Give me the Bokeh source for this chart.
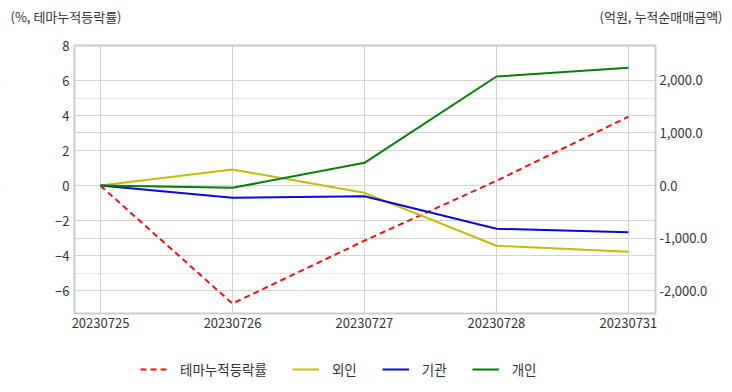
from bokeh.plotting import figure
from bokeh.models import (Range1d, LinearAxis, FixedTicker, NumeralTickFormatter,
                          Legend, LegendItem, ColumnDataSource, Grid, Label,
                          BoxAnnotation)
from bokeh.embed import file_html
from bokeh.resources import INLINE

dates = ["20230725", "20230726", "20230727", "20230728", "20230731"]
theme_pct = [0.0, -6.72, -3.13, 0.28, 3.94]
foreign = [0.0, 304.0, -139.0, -1144.0, -1258.0]
institution = [0.0, -233.0, -203.0, -822.0, -886.0]
individual = [0.0, -44.0, 431.0, 2068.0, 2233.0]
left_ticks = [-6, -4, -2, 0, 2, 4, 6, 8]
right_ticks = [-2000, -1000, 0, 1000, 2000]
left_title = "(%, 테마누적등락률)"
right_title = "(억원, 누적순매매금액)"
series_names = ["테마누적등락률", "외인", "기관", "개인"]

FONT = "Noto Sans CJK KR"
TXT = "#333333"
GRID = "#d3d3d3"
FS = "13px"

# layout: canvas size and the plot box inside it (pixels)
W, H = 724, 384
BL, BR, BT, BB = 74, 655, 45, 313
# visible value spans of the plot box
x0, x1 = -0.197, 4.205
y0, y1 = -7.285, 8.0
a0, a1 = -2429.0, 2657.0

sx = (BR - BL) / (x1 - x0)
sy = (BB - BT) / (y1 - y0)
sa = (BB - BT) / (a1 - a0)
xr = Range1d(x0 - BL / sx, x1 + (W - BR) / sx)
yr = Range1d(y0 - (H - BB) / sy, y1 + BT / sy)
ar = Range1d(a0 - (H - BB) / sa, a1 + BT / sa)

xs = list(range(len(dates)))
src = ColumnDataSource(dict(x=xs, theme=theme_pct, foreign=foreign,
                            inst=institution, indiv=individual))

p = figure(width=W, height=H, output_backend="svg", toolbar_location=None,
           x_range=xr, y_range=yr, min_border=0,
           x_axis_location=None, y_axis_location=None)
p.extra_y_ranges = {"amt": ar}
p.outline_line_color = None

xa = LinearAxis(ticker=FixedTicker(ticks=xs), fixed_location=y0)
xa.major_label_overrides = {i: d for i, d in enumerate(dates)}
la = LinearAxis(ticker=FixedTicker(ticks=left_ticks), fixed_location=x0)
ra = LinearAxis(y_range_name="amt", ticker=FixedTicker(ticks=right_ticks),
                formatter=NumeralTickFormatter(format="0,0.0"), fixed_location=x1)
for ax in [xa, la, ra]:
    ax.axis_line_color = None
    ax.major_tick_line_color = None
    ax.minor_tick_line_color = None
    ax.major_tick_out = 0
    ax.major_tick_in = 0
    ax.major_label_standoff = 4
    ax.major_label_text_font = FONT
    ax.major_label_text_font_size = FS
    ax.major_label_text_color = TXT
xa.major_label_standoff = 4
la.major_label_standoff = 5
p.add_layout(xa, "below")
p.add_layout(la, "left")
p.add_layout(ra, "right")

p.add_layout(Grid(dimension=0, ticker=xa.ticker, grid_line_color=GRID))
p.add_layout(Grid(dimension=1, ticker=la.ticker, grid_line_color=GRID))
p.add_layout(Grid(dimension=1, ticker=ra.ticker, y_range_name="amt",
                  grid_line_color=GRID))

# white masks outside the plot box, then the grey box outline
for kw in [dict(left=xr.start, right=x0, bottom=yr.start, top=yr.end),
           dict(left=x1, right=xr.end, bottom=yr.start, top=yr.end),
           dict(left=xr.start, right=xr.end, bottom=y1, top=yr.end),
           dict(left=xr.start, right=xr.end, bottom=yr.start, top=y0)]:
    p.add_layout(BoxAnnotation(fill_color="white", fill_alpha=1.0,
                               line_alpha=0, level="underlay", **kw))
p.add_layout(BoxAnnotation(left=x0, right=x1, bottom=y0, top=y1,
                           fill_alpha=0, line_color="#cccccc", line_width=2,
                           line_alpha=1.0, level="underlay"))

r_theme = p.line("x", "theme", source=src, line_color="#ee1111", line_width=2,
                 line_dash="6 4")
r_for = p.line("x", "foreign", source=src, y_range_name="amt",
               line_color="#c2bc0a", line_width=2)
r_inst = p.line("x", "inst", source=src, y_range_name="amt",
                line_color="#0a0ad6", line_width=2)
r_ind = p.line("x", "indiv", source=src, y_range_name="amt",
               line_color="#0a7d0a", line_width=2)

legend = Legend(items=[LegendItem(label=n, renderers=[r])
                       for n, r in zip(series_names, [r_theme, r_for, r_inst, r_ind])],
                orientation="horizontal", location=(140, 5), margin=0,
                padding=0, border_line_color=None, background_fill_alpha=0,
                glyph_width=27, glyph_height=20, label_height=20,
                label_standoff=13, spacing=25,
                label_text_font=FONT, label_text_font_size="13.5px",
                label_text_color=TXT)
p.add_layout(legend, "center")

p.add_layout(Label(x=10, y=H - 16, x_units="screen", y_units="screen",
                   text=left_title, text_font=FONT, text_font_size=FS,
                   text_color=TXT, text_baseline="middle", text_align="left"))
p.add_layout(Label(x=722, y=H - 16, x_units="screen", y_units="screen",
                   text=right_title, text_font=FONT, text_font_size=FS,
                   text_color=TXT, text_baseline="middle", text_align="right"))

open("out.html", "w").write(file_html(p, INLINE))
